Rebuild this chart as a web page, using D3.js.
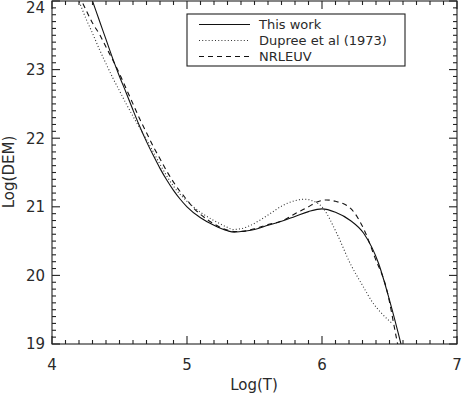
<!DOCTYPE html>
<html><head><meta charset="utf-8">
<script src="https://cdn.jsdelivr.net/npm/d3@7"></script>
<style>body{margin:0;background:#fff}svg{display:block}text{font-family:"DejaVu Sans",sans-serif;fill:#2a2a2a}</style>
</head><body><svg id="c" width="462" height="397"></svg>
<script>
// Data: log T and log DEM
const thisWorkT = [4.25,4.30,4.35,4.40,4.45,4.50,4.55,4.60,4.65,4.70,4.75,4.80,4.85,4.90,4.95,5.00,5.10,5.20,5.30,5.35,5.40,5.50,5.60,5.70,5.80,5.90,6.00,6.10,6.21,6.31,6.42,6.50,6.585,6.61];
const thisWorkY = [24.28,24.0,23.72,23.44,23.16,22.90,22.66,22.41,22.17,21.95,21.75,21.56,21.39,21.24,21.11,21.00,20.84,20.73,20.65,20.63,20.64,20.67,20.73,20.79,20.86,20.93,20.97,20.92,20.80,20.61,20.17,19.64,19.0,18.8];
const dupreeT = [4.15,4.20,4.25,4.30,4.35,4.39,4.45,4.50,4.55,4.60,4.65,4.70,4.75,4.80,4.85,4.90,5.00,5.10,5.20,5.30,5.34,5.40,5.47,5.60,5.71,5.80,5.87,5.94,6.00,6.11,6.21,6.31,6.37,6.44,6.52];
const dupreeY = [24.25,24.0,23.75,23.53,23.30,23.13,22.88,22.69,22.50,22.32,22.15,21.98,21.80,21.62,21.45,21.30,21.08,20.92,20.80,20.70,20.67,20.68,20.73,20.88,21.02,21.09,21.11,21.08,21.00,20.61,20.17,19.82,19.62,19.45,19.30];
const nrleuvT = [4.17,4.22,4.30,4.356,4.40,4.45,4.50,4.55,4.60,4.65,4.70,4.75,4.80,4.85,4.90,4.95,5.00,5.05,5.10,5.20,5.30,5.35,5.40,5.50,5.60,5.71,5.80,5.90,5.95,6.035,6.10,6.21,6.32,6.39,6.48,6.55,6.57];
const nrleuvY = [24.2,24.0,23.68,23.5,23.33,23.14,22.94,22.72,22.50,22.28,22.08,21.88,21.70,21.52,21.36,21.22,21.10,20.98,20.89,20.75,20.66,20.64,20.64,20.68,20.74,20.80,20.90,21.00,21.06,21.10,21.08,20.98,20.63,20.27,19.79,19.10,18.9];
const seriesNames = ["This work","Dupree et al (1973)","NRLEUV"];
const xTicks = [4,5,6,7];
const yTicks = [19,20,21,22,23,24];
const xLabel = "Log(T)", yLabel = "Log(DEM)";

const svg = d3.select("#c");
const L=52,R=457,T=1,B=344;
const x = d3.scaleLinear().domain([4,7]).range([L,R]);
const y = d3.scaleLinear().domain([19,24]).range([B,T]);

svg.append("defs").append("clipPath").attr("id","clip").append("rect")
  .attr("x",L).attr("y",T).attr("width",R-L).attr("height",B-T);

const styles = [
  {dash:null, w:1.1, c:"#111"},
  {dash:"1,2.2", w:1.1, c:"#333"},
  {dash:"5,4", w:1.1, c:"#111"}
];
const data = [
  d3.zip(thisWorkT,thisWorkY),
  d3.zip(dupreeT,dupreeY),
  d3.zip(nrleuvT,nrleuvY)
];
const line = d3.line().x(d=>x(d[0])).y(d=>y(d[1])).curve(d3.curveMonotoneX);
const g = svg.append("g").attr("clip-path","url(#clip)");
data.forEach((d,i)=>{
  g.append("path").attr("d",line(d)).attr("fill","none")
   .attr("stroke",styles[i].c).attr("stroke-width",styles[i].w)
   .attr("stroke-dasharray",styles[i].dash);
});

// frame
const ax = svg.append("g").attr("stroke","#222").attr("stroke-width",1.1).attr("fill","none");
ax.append("rect").attr("x",L).attr("y",T).attr("width",R-L).attr("height",B-T);
d3.range(40,71).forEach(k=>{
  const px=x(k/10), len = k%10===0?8:4;
  ax.append("line").attr("x1",px).attr("x2",px).attr("y1",B).attr("y2",B-len);
  ax.append("line").attr("x1",px).attr("x2",px).attr("y1",T).attr("y2",T+len);
});
d3.range(190,241).forEach(k=>{
  const py=y(k/10), len = k%10===0?8:4;
  ax.append("line").attr("y1",py).attr("y2",py).attr("x1",L).attr("x2",L+len);
  ax.append("line").attr("y1",py).attr("y2",py).attr("x1",R).attr("x2",R-len);
});
svg.selectAll("text.xt").data(xTicks).join("text").attr("class","xt")
  .attr("x",d=>x(d)).attr("y",370).attr("text-anchor","middle").attr("font-size",15).text(d=>d);
svg.selectAll("text.yt").data(yTicks).join("text").attr("class","yt")
  .attr("x",45).attr("y",d=>Math.max(y(d),8)).attr("dy","0.36em").attr("text-anchor","end").attr("font-size",15).text(d=>d);
svg.append("text").attr("x",254).attr("y",390).attr("text-anchor","middle").attr("font-size",15).text(xLabel);
svg.append("text").attr("transform","translate(14,172) rotate(-90)").attr("text-anchor","middle").attr("font-size",15).text(yLabel);

// legend
const lg = svg.append("g");
lg.append("rect").attr("x",187).attr("y",14).attr("width",218).attr("height",52)
  .attr("fill","#fff").attr("stroke","#222").attr("stroke-width",1.1);
const rowsY=[24.5,40.5,56.5];
seriesNames.forEach((n,i)=>{
  lg.append("line").attr("x1",199).attr("x2",250).attr("y1",rowsY[i]).attr("y2",rowsY[i])
    .attr("stroke",styles[i].c).attr("stroke-width",styles[i].w).attr("stroke-dasharray",styles[i].dash);
  lg.append("text").attr("x",259).attr("y",rowsY[i]+4.6).attr("font-size",13).text(n);
});
</script></body></html>
